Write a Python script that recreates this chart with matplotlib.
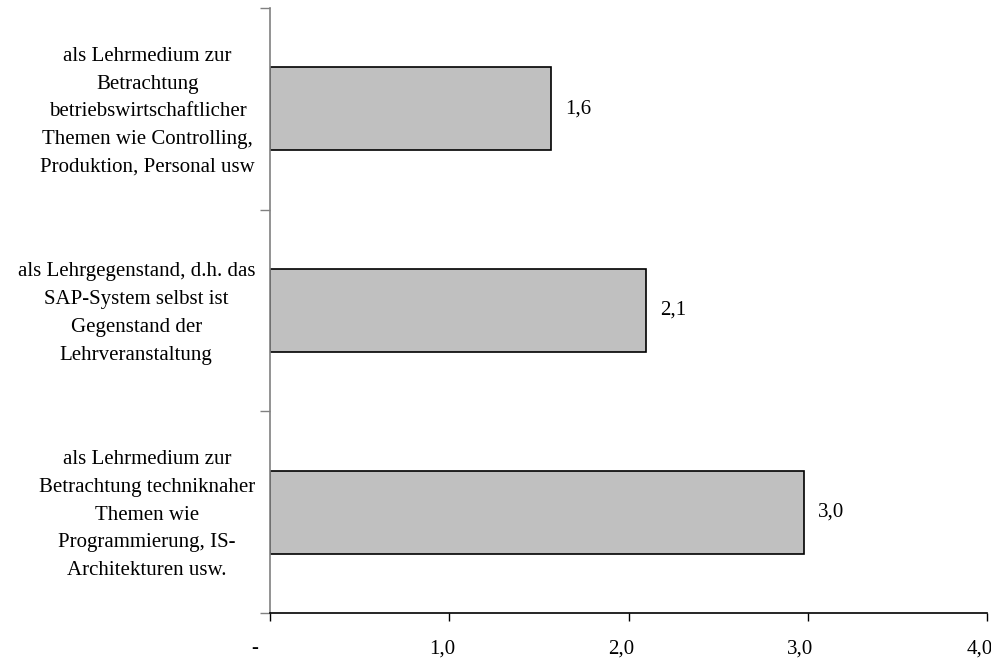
import matplotlib
matplotlib.use("Agg")
import matplotlib.pyplot as plt
import matplotlib.transforms as mtransforms

categories = [
    "als Lehrmedium zur\nBetrachtung\nbetriebswirtschaftlicher\nThemen wie Controlling,\nProduktion, Personal usw",
    "als Lehrgegenstand, d.h. das\nSAP-System selbst ist\nGegenstand der\nLehrveranstaltung",
    "als Lehrmedium zur\nBetrachtung techniknaher\nThemen wie\nProgrammierung, IS-\nArchitekturen usw.",
]
values = [1.57, 2.10, 2.98]
value_labels = ["1,6", "2,1", "3,0"]
xticks = [0, 1, 2, 3, 4]
xtick_labels = ["-", "1,0", "2,0", "3,0", "4,0"]

plt.rcParams['font.family'] = ['Liberation Serif', 'DejaVu Serif']
FS = 15

fig = plt.figure(figsize=(9.91, 6.59), dpi=100)
ax = fig.add_axes([270/991, 1-613/659, (987-270)/991, (613-8)/659])

n = len(categories)
ypos = list(range(n))[::-1]  # first category on top
ax.barh(ypos, values, height=0.41, color="#c0c0c0", edgecolor="black", linewidth=1.2, zorder=2)

for y, v, lab in zip(ypos, values, value_labels):
    ax.annotate(lab, xy=(v, y), xytext=(10, 0), textcoords="offset points",
                ha="left", va="center", fontsize=FS, color="black")

ax.set_xlim(0, 4)
ax.set_ylim(-0.5, n - 0.5)

ax.set_xticks(xticks)
ax.set_xticklabels(xtick_labels, fontsize=FS)
ax.tick_params(axis="x", direction="out", length=6, width=1, color="black", pad=13)
for i, lbl in enumerate(ax.get_xticklabels()):
    dx = -15.5 if i == 0 else -7.5
    lbl.set_transform(lbl.get_transform() + mtransforms.ScaledTranslation(dx/100, 0, fig.dpi_scale_trans))

# category labels
ax.set_yticks([i - 0.5 for i in range(n + 1)])
ax.set_yticklabels([])
ax.tick_params(axis="y", direction="out", length=7, width=1, color="#808080")
lab_tr = ax.get_yaxis_transform() + mtransforms.ScaledTranslation(-15/100, -3/100, fig.dpi_scale_trans)
for y, cat in zip(ypos, categories):
    ax.text(0, y, cat, transform=lab_tr, ha="right", va="center", multialignment="center",
            fontsize=FS, linespacing=1.63, color="black")

for s in ["top", "right"]:
    ax.spines[s].set_visible(False)
ax.spines["left"].set_color("#808080")
ax.spines["left"].set_linewidth(1.2)
ax.spines["bottom"].set_color("black")
ax.spines["bottom"].set_linewidth(1.2)

fig.savefig("out.png", dpi=100, facecolor="white")
